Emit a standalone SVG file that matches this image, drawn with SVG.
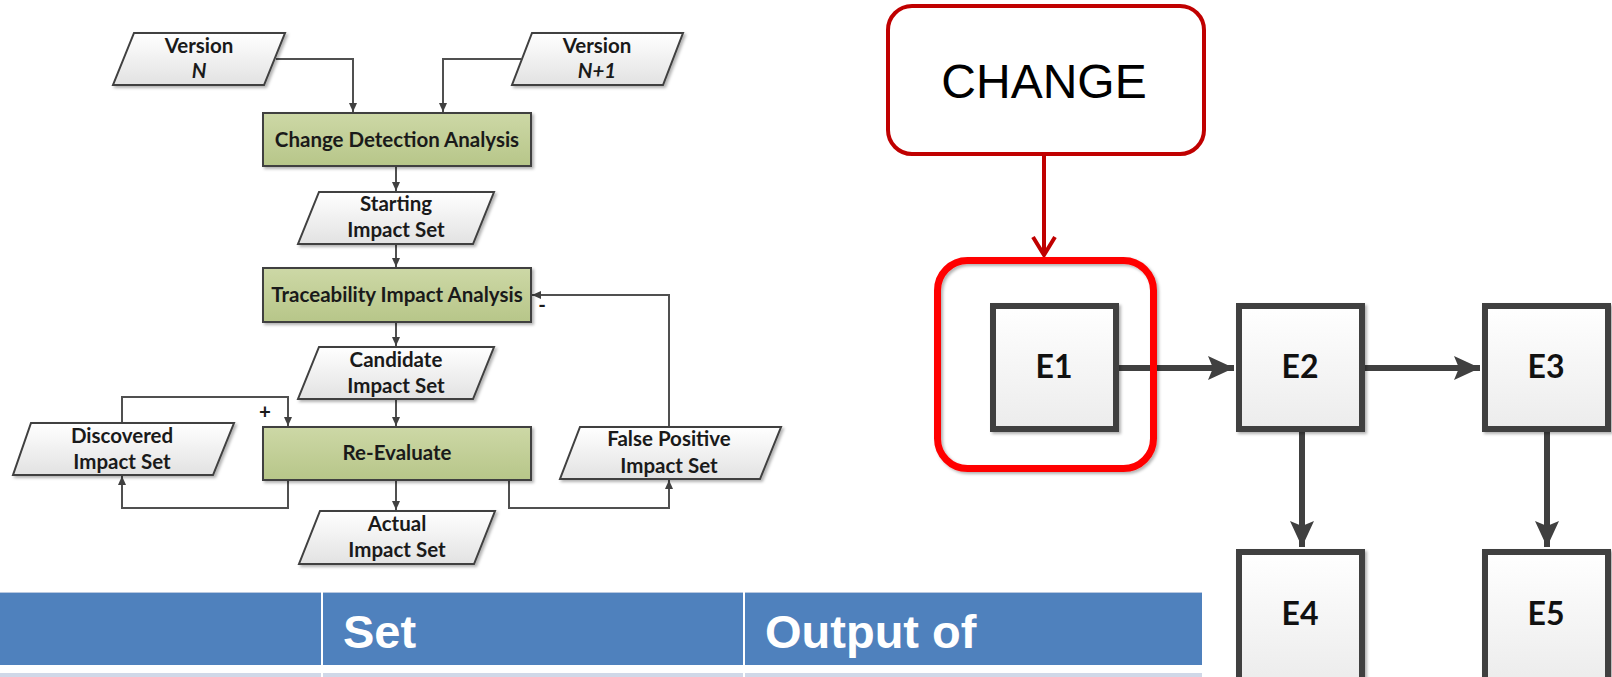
<svg xmlns="http://www.w3.org/2000/svg" width="1612" height="677" viewBox="0 0 1612 677">
<style>
.t{font-family:Lato,"Liberation Sans",sans-serif;font-weight:bold;font-size:20.5px;fill:#1a1a1a;text-anchor:middle}
.i{font-style:italic}
.para{fill:url(#gPara);stroke:#404040;stroke-width:2;filter:url(#sh)}
.proc{fill:url(#gGreen);stroke:#404040;stroke-width:2;filter:url(#sh)}
.lc{fill:none;stroke:#505050;stroke-width:2}
.ebox{fill:url(#gBox);stroke:#404040;stroke-width:6;filter:url(#sh)}
.et{font-family:Lato,"Liberation Sans",sans-serif;font-weight:bold;font-size:32px;fill:#111;text-anchor:middle}
.rc{fill:none;stroke:#404040;stroke-width:6}
.th{font-family:"Liberation Sans",Arial,sans-serif;font-weight:bold;font-size:47px;fill:#fff}
</style>
<defs>
<linearGradient id="gPara" x1="0" y1="0" x2="0" y2="1"><stop offset="0" stop-color="#ffffff"/><stop offset="1" stop-color="#e2e2e2"/></linearGradient>
<linearGradient id="gGreen" x1="0" y1="0" x2="0" y2="1"><stop offset="0" stop-color="#cdd8a6"/><stop offset="1" stop-color="#b7c689"/></linearGradient>
<linearGradient id="gBox" x1="0" y1="0" x2="0" y2="1"><stop offset="0" stop-color="#ffffff"/><stop offset="1" stop-color="#ececec"/></linearGradient>
<filter id="sh" x="-10%" y="-10%" width="130%" height="130%"><feDropShadow dx="2" dy="2" stdDeviation="1.5" flood-color="#000" flood-opacity="0.3"/></filter>
<marker id="aL" markerUnits="userSpaceOnUse" markerWidth="10" markerHeight="10" refX="9" refY="4" orient="auto"><path d="M0,0 L9,4 L0,8 z" fill="#404040"/></marker>
<marker id="aR" markerUnits="userSpaceOnUse" markerWidth="28" markerHeight="26" refX="26" refY="12" orient="auto"><path d="M0,0 L26,12 L0,24 L5,12 z" fill="#404040"/></marker>
</defs>
<rect width="1612" height="677" fill="#fff"/>

<g id="connectors">
<path class="lc" d="M276,59 H353 V112" marker-end="url(#aL)"/>
<path class="lc" d="M521,59 H443 V112" marker-end="url(#aL)"/>
<path class="lc" d="M396,166 V191" marker-end="url(#aL)"/>
<path class="lc" d="M396,244 V267" marker-end="url(#aL)"/>
<path class="lc" d="M396,322 V346" marker-end="url(#aL)"/>
<path class="lc" d="M396,399 V426" marker-end="url(#aL)"/>
<path class="lc" d="M396,480 V510" marker-end="url(#aL)"/>
<path class="lc" d="M122,423 V397 H288 V426" marker-end="url(#aL)"/>
<path class="lc" d="M288,480 V508 H122 V476" marker-end="url(#aL)"/>
<path class="lc" d="M509,480 V508 H669 V480" marker-end="url(#aL)"/>
<path class="lc" d="M669,427 V295 H532" marker-end="url(#aL)"/>
<text class="t" x="265" y="419">+</text>
<text class="t" x="542" y="312">-</text>
<path d="M1044,156 V252" fill="none" stroke="#c00000" stroke-width="4"/>
<polyline points="1033,237 1044,255 1055,237" fill="none" stroke="#c00000" stroke-width="4"/>
<path class="rc" d="M1119,368 H1234" marker-end="url(#aR)"/>
<path class="rc" d="M1365,368 H1480" marker-end="url(#aR)"/>
<path class="rc" d="M1302,432 V547" marker-end="url(#aR)"/>
<path class="rc" d="M1547,432 V547" marker-end="url(#aR)"/>
</g>

<g id="versionN"><polygon class="para" points="134,33 285,33 264,85 113,85"/><text class="t" x="199" y="53">Version</text><text class="t i" x="199" y="78">N</text></g>
<g id="versionN1"><polygon class="para" points="532,33 683,33 663,85 512,85"/><text class="t" x="597" y="53">Version</text><text class="t i" x="597" y="78">N+1</text></g>
<g id="changeDetection"><rect class="proc" x="263" y="113" width="268" height="53"/><text class="t" x="397" y="147">Change Detection Analysis</text></g>
<g id="startingSet"><polygon class="para" points="319,192 494,192 473,244 298,244"/><text class="t" x="396" y="211">Starting</text><text class="t" x="396" y="237">Impact Set</text></g>
<g id="traceability"><rect class="proc" x="263" y="268" width="268" height="54"/><text class="t" x="397" y="302">Traceability Impact Analysis</text></g>
<g id="candidateSet"><polygon class="para" points="319,347 494,347 473,399 298,399"/><text class="t" x="396" y="367">Candidate</text><text class="t" x="396" y="393">Impact Set</text></g>
<g id="reEvaluate"><rect class="proc" x="263" y="427" width="268" height="53"/><text class="t" x="397" y="460">Re-Evaluate</text></g>
<g id="discoveredSet"><polygon class="para" points="31,423 234,423 213,475 13,475"/><text class="t" x="122" y="443">Discovered</text><text class="t" x="122" y="469">Impact Set</text></g>
<g id="falsePositiveSet"><polygon class="para" points="580,427 781,427 760,479 560,479"/><text class="t" x="669" y="446">False Positive</text><text class="t" x="669" y="473">Impact Set</text></g>
<g id="actualSet"><polygon class="para" points="320,511 495,511 474,564 299,564"/><text class="t" x="397" y="531">Actual</text><text class="t" x="397" y="557">Impact Set</text></g>

<g id="change"><rect x="888" y="6" width="316" height="148" rx="24" fill="#fff" stroke="#c00000" stroke-width="4"/><text x="1044" y="98" font-family="'Liberation Sans',Arial,sans-serif" font-size="48" text-anchor="middle" fill="#000">CHANGE</text></g>
<g id="highlight"><rect x="937.5" y="260.5" width="216" height="208" rx="30" fill="none" stroke="#ff0000" stroke-width="7" filter="url(#sh)"/></g>
<g id="E1"><rect class="ebox" x="993" y="306" width="123" height="123"/><text class="et" x="1054" y="378">E1</text></g>
<g id="E2"><rect class="ebox" x="1239" y="306" width="123" height="123"/><text class="et" x="1300" y="378">E2</text></g>
<g id="E3"><rect class="ebox" x="1485" y="306" width="123" height="123"/><text class="et" x="1546" y="378">E3</text></g>
<g id="E4"><rect class="ebox" x="1239" y="552" width="123" height="130"/><text class="et" x="1300" y="625">E4</text></g>
<g id="E5"><rect class="ebox" x="1485" y="552" width="123" height="130"/><text class="et" x="1546" y="625">E5</text></g>

<g id="table">
<rect x="0" y="592" width="1202" height="73" fill="#4f81bd"/>
<line x1="0" y1="592.5" x2="1202" y2="592.5" stroke="#b8c8e0" stroke-width="1"/>
<rect x="0" y="673" width="1202" height="4" fill="#d0d8e8"/>
<line x1="322" y1="592" x2="322" y2="677" stroke="#fff" stroke-width="2"/>
<line x1="744" y1="592" x2="744" y2="677" stroke="#fff" stroke-width="2"/>
<text class="th" x="343" y="648">Set</text>
<text class="th" x="765" y="648">Output of</text>
</g>
</svg>
